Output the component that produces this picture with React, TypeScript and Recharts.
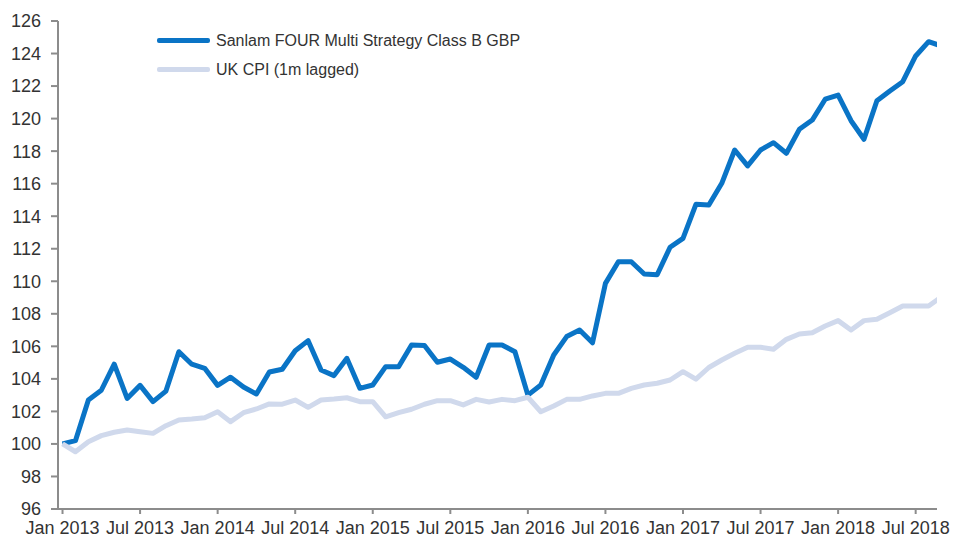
import React from 'react'

//* Recharts
import { Line, LineChart, XAxis, YAxis } from 'recharts'

// monthly, Jan 2013 .. Sep 2018 (index = months since Jan 2013)
const months = ['Jan', 'Feb', 'Mar', 'Apr', 'May', 'Jun', 'Jul', 'Aug', 'Sep', 'Oct', 'Nov', 'Dec']
const startYear = 2013

const fund = [
    100.0, 100.2, 102.7, 103.3, 104.9, 102.8, 103.6, 102.6, 103.25, 105.67, 104.9, 104.65,
    103.6, 104.1, 103.5, 103.07, 104.42, 104.59, 105.73, 106.35, 104.55, 104.2, 105.26, 103.42,
    103.62, 104.75, 104.75, 106.08, 106.05, 105.02, 105.22, 104.71, 104.1, 106.08, 106.08, 105.67,
    103.0, 103.62, 105.47, 106.6, 107.0, 106.22, 109.87, 111.2, 111.2, 110.45, 110.4, 112.09,
    112.64, 114.73, 114.69, 116.02, 118.07, 117.09, 118.07, 118.52, 117.87, 119.34, 119.91, 121.19,
    121.45, 119.87, 118.73, 121.1, 121.7, 122.27, 123.85, 124.73, 124.46
]

const cpi = [
    100.0, 99.52, 100.14, 100.51, 100.72, 100.86, 100.75, 100.65, 101.12, 101.47, 101.53, 101.61,
    101.98, 101.37, 101.92, 102.15, 102.46, 102.44, 102.7, 102.25, 102.7, 102.76, 102.84, 102.6,
    102.6, 101.67, 101.92, 102.13, 102.44, 102.66, 102.66, 102.4, 102.74, 102.58, 102.74, 102.66,
    102.87, 101.98, 102.33, 102.74, 102.74, 102.95, 103.11, 103.11, 103.42, 103.62, 103.73, 103.93,
    104.44, 103.98, 104.7, 105.16, 105.57, 105.94, 105.94, 105.82, 106.43, 106.76, 106.84, 107.25,
    107.58, 107.0, 107.58, 107.66, 108.07, 108.48, 108.48, 108.48, 109.05
]

const xTicks = [0, 6, 12, 18, 24, 30, 36, 42, 48, 54, 60, 66]
const yTicks = [96, 98, 100, 102, 104, 106, 108, 110, 112, 114, 116, 118, 120, 122, 124, 126]

const FUND_NAME = 'Sanlam FOUR Multi Strategy Class B GBP'
const CPI_NAME = 'UK CPI (1m lagged)'

const data = fund.map((v, i) => ({ m: i, fund: v, cpi: cpi[i] }))

const monthLabel = (i: number) => months[i % 12] + ' ' + (startYear + Math.floor(i / 12))

const FONT = '"Liberation Sans", Arial, sans-serif'
const BLUE = '#0a74c6'
const LIGHT = '#d0d9ec'

const legendItems = [
    { name: FUND_NAME, color: BLUE },
    { name: CPI_NAME, color: LIGHT }
]

function ChartLegend() {
    return (
        <div style={{ position: 'absolute', top: 26, left: 157, fontFamily: FONT, fontSize: 16, color: '#333' }}>
            {legendItems.map(it => (
                <div key={it.name} style={{ display: 'flex', alignItems: 'center', height: 29 }}>
                    <div style={{ width: 53, height: 5, background: it.color, borderRadius: 2, marginRight: 6 }} />
                    <span>{it.name}</span>
                </div>
            ))}
        </div>
    )
}

function App() {
    return (
        <div style={{ position: 'relative', width: 956, height: 537 }}>
            <style>{'body{margin:0}'}</style>
            <LineChart width={956} height={537} data={data} margin={{ top: 21, right: 19, bottom: 0, left: 0 }}>
                <XAxis
                    dataKey="m"
                    type="number"
                    domain={[-0.35, 67.65]}
                    allowDataOverflow
                    ticks={xTicks}
                    tickFormatter={monthLabel}
                    interval={0}
                    height={28}
                    tickSize={5}
                    tickMargin={7}
                    stroke="#8c8c8c"
                    strokeWidth={2}
                    tick={{ fill: '#333', fontSize: 18, fontFamily: FONT }}
                />
                <YAxis
                    type="number"
                    domain={[96, 126]}
                    ticks={yTicks}
                    interval={0}
                    width={58}
                    tickSize={7}
                    tickMargin={10}
                    stroke="#8c8c8c"
                    strokeWidth={2}
                    tick={{ fill: '#333', fontSize: 18, fontFamily: FONT }}
                />
                <Line
                    name={FUND_NAME}
                    dataKey="fund"
                    stroke={BLUE}
                    strokeWidth={5}
                    strokeLinejoin="round"
                    dot={false}
                    isAnimationActive={false}
                />
                <Line
                    name={CPI_NAME}
                    dataKey="cpi"
                    stroke={LIGHT}
                    strokeWidth={5}
                    strokeLinejoin="round"
                    dot={false}
                    isAnimationActive={false}
                />
            </LineChart>
            <ChartLegend />
        </div>
    )
}

export default App
